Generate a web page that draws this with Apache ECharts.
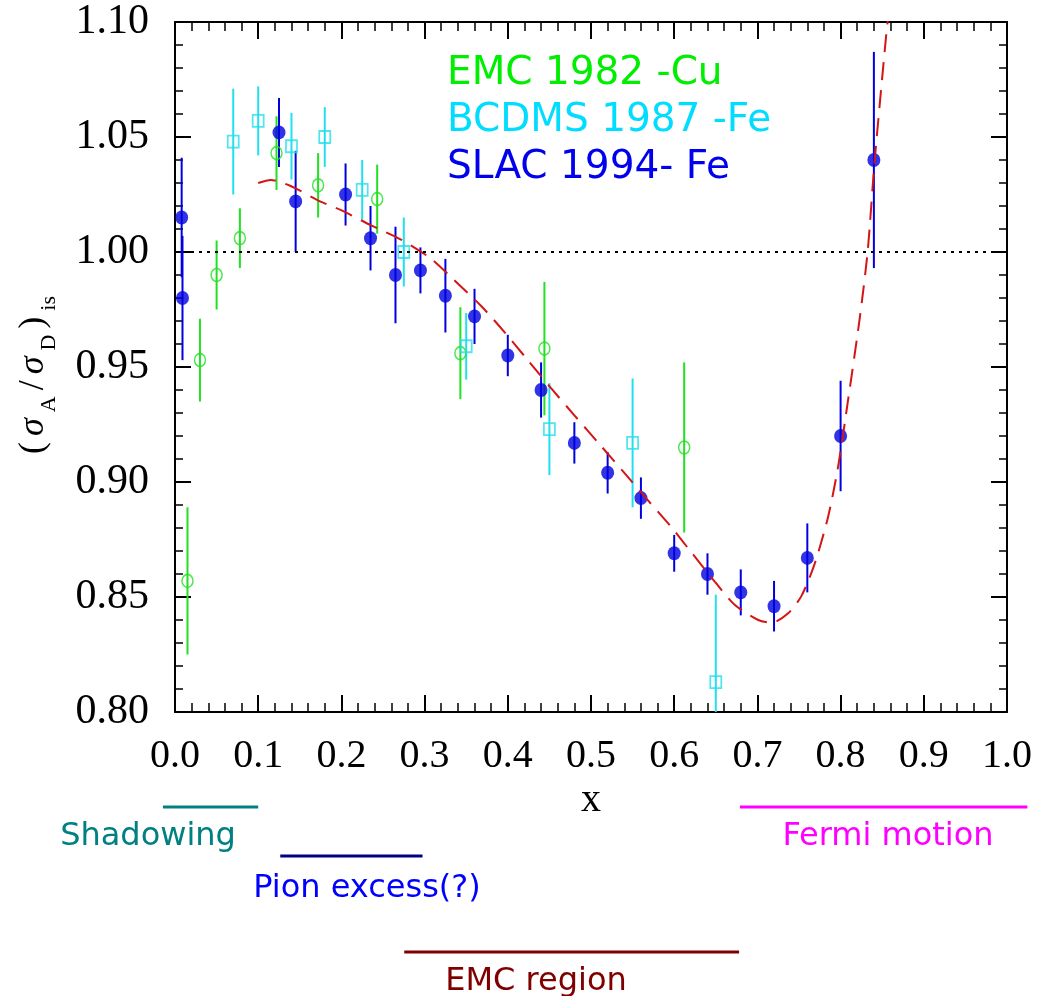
<!DOCTYPE html>
<html>
<head>
<meta charset="utf-8">
<script src="https://cdn.jsdelivr.net/npm/echarts/dist/echarts.min.js"></script>
<style>html,body{margin:0;padding:0;background:#fff}#c{width:1041px;height:996px}</style>
</head>
<body>
<div id="c"></div>
<script>
// ---------- data ----------
const emcX   = [0.015, 0.030, 0.050, 0.078, 0.122, 0.172, 0.243, 0.343, 0.444, 0.612];
const emcY   = [0.857, 0.953, 0.990, 1.006, 1.043, 1.029, 1.023, 0.956, 0.958, 0.915];
const emcErr = [0.032, 0.018, 0.015, 0.013, 0.016, 0.014, 0.015, 0.020, 0.029, 0.037];

const bcdmsX   = [0.070, 0.100, 0.140, 0.180, 0.225, 0.275, 0.350, 0.450, 0.550, 0.650];
const bcdmsY   = [1.048, 1.057, 1.046, 1.050, 1.027, 1.000, 0.959, 0.923, 0.917, 0.813];
const bcdmsErr = [0.023, 0.015, 0.0145, 0.013, 0.013, 0.015, 0.0145, 0.020, 0.028, 0.038];

const slacX   = [0.008, 0.009, 0.125, 0.145, 0.205, 0.235, 0.265, 0.295, 0.325, 0.360, 0.400,
                 0.440, 0.480, 0.520, 0.560, 0.600, 0.640, 0.680, 0.720, 0.760, 0.800, 0.840];
const slacY   = [1.015, 0.980, 1.052, 1.022, 1.025, 1.006, 0.990, 0.992, 0.981, 0.972, 0.955,
                 0.940, 0.917, 0.904, 0.893, 0.869, 0.860, 0.852, 0.846, 0.867, 0.920, 1.040];
const slacErr = [0.026, 0.027, 0.015, 0.022, 0.0135, 0.014, 0.021, 0.010, 0.016, 0.012, 0.009,
                 0.012, 0.009, 0.009, 0.009, 0.008, 0.009, 0.010, 0.011, 0.015, 0.024, 0.047];

const fitX = [0.100, 0.115, 0.139, 0.175, 0.199, 0.235, 0.271, 0.307, 0.335, 0.368, 0.396,
              0.424, 0.452, 0.480, 0.512, 0.538, 0.568, 0.596, 0.620, 0.649, 0.673,
              0.701, 0.717, 0.737, 0.753, 0.769, 0.785, 0.797, 0.809, 0.823, 0.8325,
              0.841, 0.855, 0.858];
const fitY = [1.030, 1.0313, 1.0287, 1.0219, 1.0183, 1.0117, 1.0055, 0.9973, 0.9880, 0.9765, 0.9652,
              0.9530, 0.9408, 0.9290, 0.9157, 0.9048, 0.8922, 0.8806, 0.8697, 0.8566, 0.8465,
              0.8400, 0.8388, 0.8429, 0.8505, 0.8646, 0.8849, 0.9067, 0.9357, 0.9712, 1.0001,
              1.040, 1.0951, 1.105];

const referenceLine = [1.00];

const legendNames = ['EMC 1982 -Cu', 'BCDMS 1987 -Fe', 'SLAC 1994- Fe'];

const regionNames = ['Shadowing', 'Pion excess(?)', 'EMC region', 'Fermi motion'];
const regionStart = [-0.0145, 0.1265, 0.2755, 0.679];
const regionEnd   = [0.100, 0.2975, 0.678, 1.0245];

// ---------- styles ----------
const GREEN_M = '#22e022', CYAN_M = '#22dfee', BLUE_M = '#0000e0', RED = '#d41515';
const SERIF = 'Liberation Serif';
const SANS = 'DejaVu Sans';

function pack(xs, ys, es) { return xs.map((x, i) => [x, ys[i], es[i]]); }

function errBar(color, width) {
  return function (params, api) {
    const x = api.value(0), y = api.value(1), e = api.value(2);
    const p1 = api.coord([x, y - e]);
    const p2 = api.coord([x, y + e]);
    return {
      type: 'line',
      shape: { x1: p1[0], y1: p1[1], x2: p2[0], y2: p2[1] },
      style: { stroke: color, lineWidth: width }
    };
  };
}

function axisCommon(extra) {
  return Object.assign({
    type: 'value',
    splitLine: { show: false },
    axisLine: { show: true, onZero: false, lineStyle: { color: '#000', width: 2 } },
    axisTick: { show: true, inside: true, lineStyle: { color: '#000', width: 2 } },
    minorTick: { show: true, splitNumber: 5, lineStyle: { color: '#000', width: 1.5 } }
  }, extra);
}

const chart = echarts.init(document.getElementById('c'), null, { renderer: 'canvas' });

const option = {
  animation: false,
  backgroundColor: '#fff',
  grid: { left: 175, right: 34, top: 22, bottom: 284, containLabel: false },
  xAxis: [
    axisCommon({
      min: 0, max: 1, interval: 0.1, position: 'bottom',
      axisTick: { show: true, inside: true, length: 17, lineStyle: { color: '#000', width: 2 } },
      minorTick: { show: true, splitNumber: 5, length: 9, lineStyle: { color: '#000', width: 1.5 } },
      axisLabel: { formatter: v => v.toFixed(1), fontFamily: SERIF, fontSize: 40, color: '#000', margin: 24 },
      name: 'x', nameLocation: 'middle', nameGap: 58,
      nameTextStyle: { fontFamily: SERIF, fontSize: 40, color: '#000' }
    }),
    axisCommon({
      min: 0, max: 1, interval: 0.1, position: 'top',
      axisTick: { show: true, inside: true, length: 17, lineStyle: { color: '#000', width: 2 } },
      minorTick: { show: true, splitNumber: 5, length: 9, lineStyle: { color: '#000', width: 1.5 } },
      axisLabel: { show: false }
    })
  ],
  yAxis: [
    axisCommon({
      min: 0.8, max: 1.1, interval: 0.05, position: 'left',
      axisTick: { show: true, inside: true, length: 16, lineStyle: { color: '#000', width: 2 } },
      minorTick: { show: true, splitNumber: 5, length: 8, lineStyle: { color: '#000', width: 1.5 } },
      axisLabel: { formatter: v => v.toFixed(2), fontFamily: SERIF, fontSize: 42, color: '#000', margin: 26 }
    }),
    axisCommon({
      min: 0.8, max: 1.1, interval: 0.05, position: 'right',
      axisTick: { show: true, inside: true, length: 16, lineStyle: { color: '#000', width: 2 } },
      minorTick: { show: true, splitNumber: 5, length: 8, lineStyle: { color: '#000', width: 1.5 } },
      axisLabel: { show: false }
    })
  ],
  series: [
    {
      type: 'custom', name: 'EMC err', clip: true, silent: true,
      data: pack(emcX, emcY, emcErr), renderItem: errBar(GREEN_M, 2),
      encode: { x: 0, y: 1 },
      markLine: {
        silent: true, symbol: 'none', animation: false,
        label: { show: false },
        lineStyle: { color: '#000', width: 2, type: [3, 5] },
        data: referenceLine.map(v => ({ yAxis: v }))
      }
    },
    {
      type: 'scatter', name: legendNames[0], silent: true,
      data: emcX.map((x, i) => [x, emcY[i]]),
      symbol: 'circle', symbolSize: [11, 13],
      itemStyle: { color: 'rgba(0,0,0,0)', borderColor: GREEN_M, borderWidth: 1.6 }
    },
    {
      type: 'custom', name: 'BCDMS err', clip: true, silent: true,
      data: pack(bcdmsX, bcdmsY, bcdmsErr), renderItem: errBar(CYAN_M, 2),
      encode: { x: 0, y: 1 }
    },
    {
      type: 'scatter', name: legendNames[1], silent: true,
      data: bcdmsX.map((x, i) => [x, bcdmsY[i]]),
      symbol: 'rect', symbolSize: [11, 12],
      itemStyle: { color: 'rgba(0,0,0,0)', borderColor: CYAN_M, borderWidth: 1.8 }
    },
    {
      type: 'custom', name: 'SLAC err', clip: true, silent: true,
      data: pack(slacX, slacY, slacErr), renderItem: errBar(BLUE_M, 2),
      encode: { x: 0, y: 1 }
    },
    {
      type: 'scatter', name: legendNames[2], silent: true,
      data: slacX.map((x, i) => [x, slacY[i]]),
      symbol: 'circle', symbolSize: [13, 14],
      itemStyle: { color: BLUE_M }
    },
    {
      type: 'line', name: 'fit', silent: true, clip: true,
      data: fitX.map((x, i) => [x, fitY[i]]),
      showSymbol: false, smooth: 0.25,
      lineStyle: { color: RED, width: 2, type: [18, 10] }
    }
  ]
};

chart.setOption(option);

// ---------- annotation graphics ----------
const legendColors = ['#00ee00', '#00ddff', '#0000ee'];
const legendY = [74, 121, 168];
const regionColors = ['#008080', '#000080', '#800000', '#ff00ff'];
const regionTextColors = ['#008080', '#0000ff', '#800000', '#ff00ff'];
const regionLineY = [807, 856, 952, 807];
const regionTextX = [148, 367, 536, 888];
const regionTextY = [837, 889, 982, 837];

const graphics = [];
legendNames.forEach((t, i) => {
  graphics.push({
    type: 'text', x: 447, y: legendY[i], silent: true,
    style: { text: t, fill: legendColors[i], fontFamily: SANS, fontSize: 39, align: 'left', verticalAlign: 'middle' }
  });
});
regionNames.forEach((t, i) => {
  const x1 = chart.convertToPixel({ xAxisIndex: 0 }, regionStart[i]);
  const x2 = chart.convertToPixel({ xAxisIndex: 0 }, regionEnd[i]);
  graphics.push({
    type: 'line', silent: true,
    shape: { x1: x1, y1: regionLineY[i], x2: x2, y2: regionLineY[i] },
    style: { stroke: regionColors[i], lineWidth: 3 }
  });
  graphics.push({
    type: 'text', x: regionTextX[i], y: regionTextY[i], silent: true,
    style: { text: t, fill: regionTextColors[i], fontFamily: SANS, fontSize: 32, align: 'center', verticalAlign: 'middle' }
  });
});
// y-axis title (σA/σD)is
graphics.push({
  type: 'text', x: 34, y: 375, rotation: Math.PI / 2, silent: true,
  style: {
    text: '{p|(}{g|σ}{s|A}{p|/}{g|σ}{s|D}{p|)}{s|is}',
    align: 'center', verticalAlign: 'middle', fill: '#000',
    rich: {
      p: { fontFamily: SERIF, fontSize: 36, padding: [0, 3, 0, 3], fill: '#000' },
      g: { fontFamily: SERIF, fontSize: 36, fontStyle: 'italic', padding: [0, 3, 0, 3], fill: '#000' },
      s: { fontFamily: SERIF, fontSize: 22, padding: [30, 3, 0, 3], fill: '#000' }
    }
  }
});

chart.setOption({ graphic: graphics });
</script>
</body>
</html>
